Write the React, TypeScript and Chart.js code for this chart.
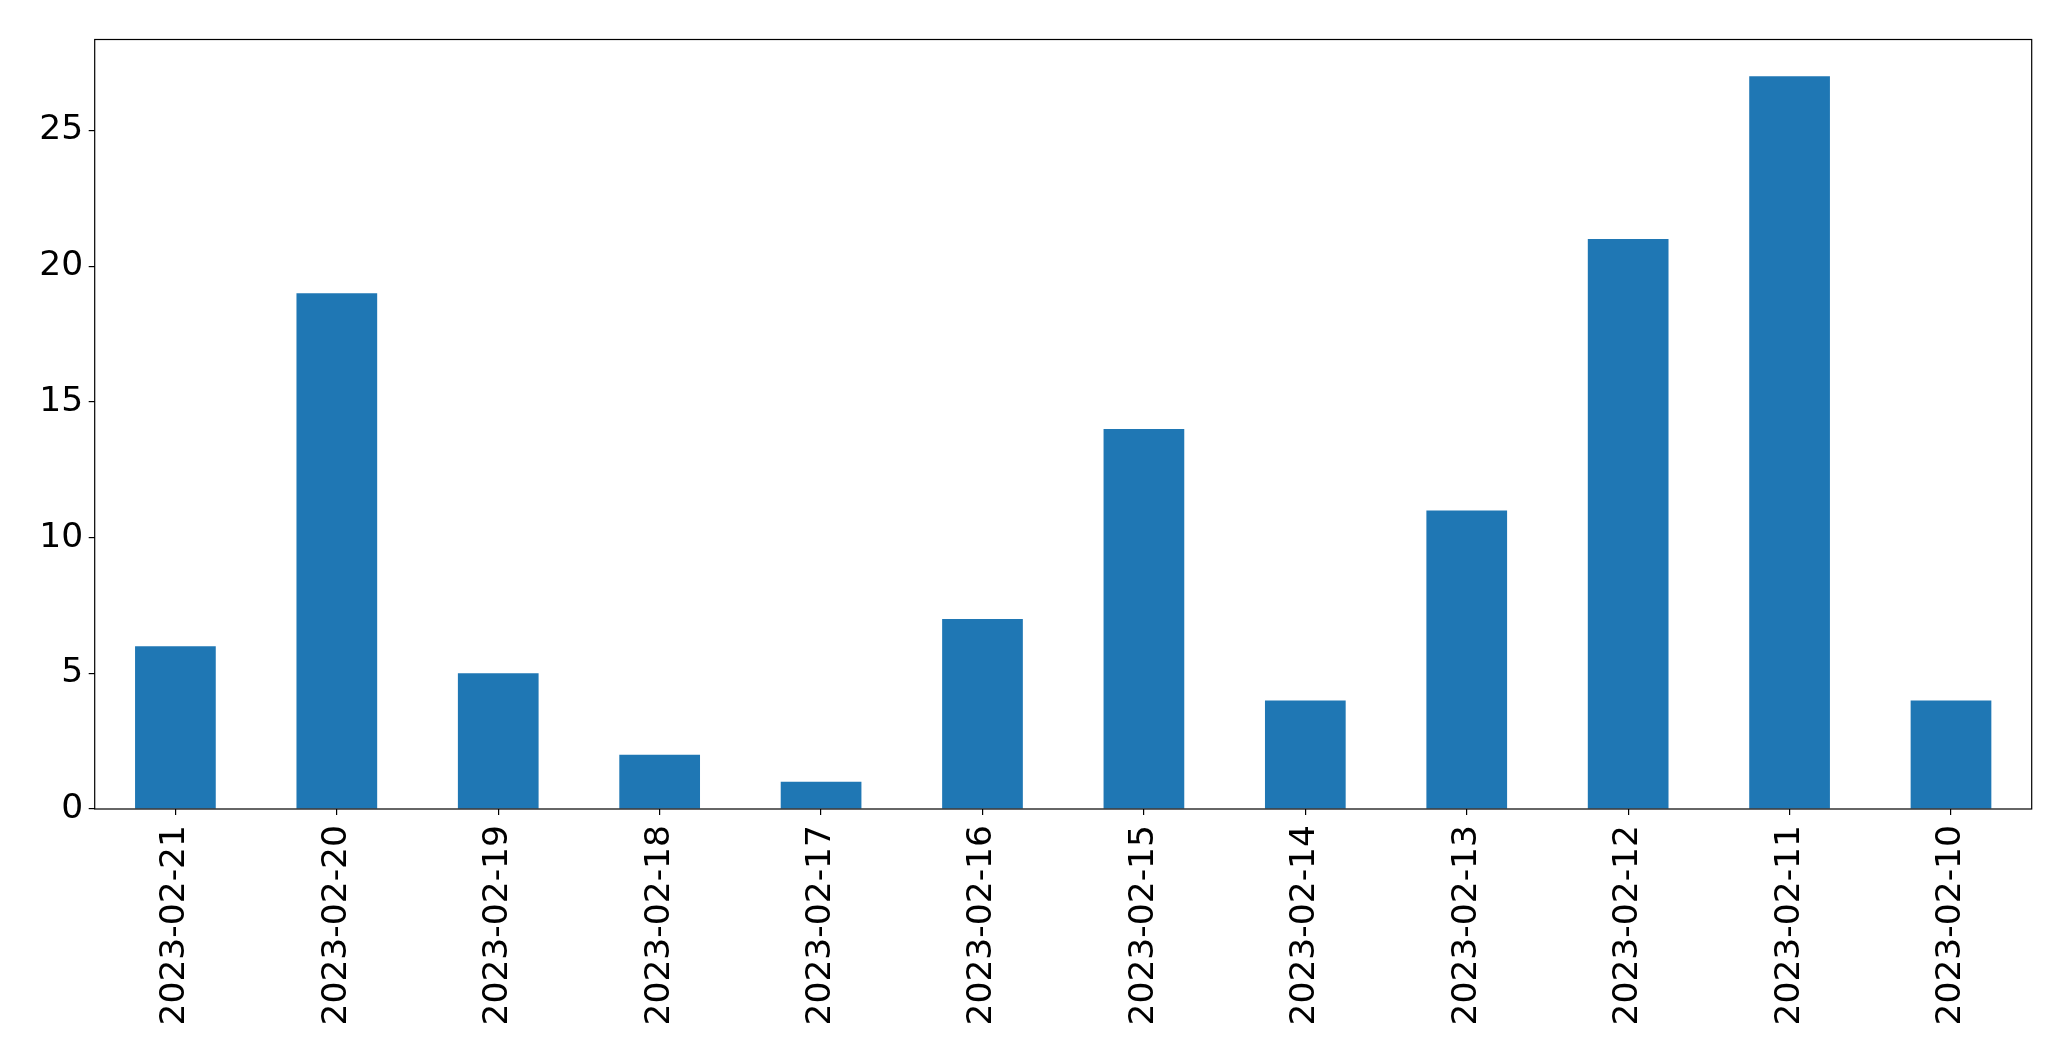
import React, { useEffect, useRef } from "react";
import { Chart, registerables } from "chart.js";

Chart.register(...registerables);

const categories = [
  "2023-02-21", "2023-02-20", "2023-02-19", "2023-02-18", "2023-02-17", "2023-02-16",
  "2023-02-15", "2023-02-14", "2023-02-13", "2023-02-12", "2023-02-11", "2023-02-10",
];
const counts = [6, 19, 5, 2, 1, 7, 14, 4, 11, 21, 27, 4];
const yTicks = [0, 5, 10, 15, 20, 25];
const yMax = 28.35;

const W = 2071;
const H = 1061;
const LEFT = 94.7;
const TOP = 39.5;
const RIGHT = 2031.7;
const BOTTOM = 809;

const framePlugin = {
  id: "frame",
  afterDatasetsDraw(chart: any) {
    const { ctx, chartArea } = chart;
    ctx.save();
    ctx.strokeStyle = "#000";
    ctx.lineWidth = 1.2;
    ctx.strokeRect(chartArea.left, chartArea.top, chartArea.right - chartArea.left, chartArea.bottom - chartArea.top);
    ctx.restore();
  },
};

export default function App() {
  const ref = useRef<HTMLCanvasElement>(null);
  useEffect(() => {
    document.body.style.margin = "0";
    const font = { family: "'DejaVu Sans', sans-serif", size: 34.5 };
    const chart = new Chart(ref.current!, {
      type: "bar",
      data: {
        labels: categories,
        datasets: [
          {
            data: counts,
            backgroundColor: "#1f77b4",
            borderWidth: 0,
            barPercentage: 0.5,
            categoryPercentage: 1,
          },
        ],
      },
      plugins: [framePlugin],
      options: {
        responsive: false,
        animation: false,
        devicePixelRatio: 1,
        layout: { padding: { left: 0, top: TOP, right: W - RIGHT, bottom: 0 } },
        plugins: { legend: { display: false }, tooltip: { enabled: false } },
        scales: {
          x: {
            offset: true,
            grid: { display: true, drawOnChartArea: false, offset: false, tickLength: 6, color: "#000", lineWidth: 1.2 },
            border: { display: false },
            ticks: { color: "#000", font, maxRotation: 90, minRotation: 90, padding: 10, autoSkip: false },
            afterFit(scale: any) {
              scale.height = H - BOTTOM;
            },
          },
          y: {
            min: 0,
            max: yMax,
            grid: { display: true, drawOnChartArea: false, tickLength: 6, color: "#000", lineWidth: 1.2 },
            border: { display: false },
            ticks: { color: "#000", font, padding: 5.5, includeBounds: false },
            afterBuildTicks(scale: any) {
              scale.ticks = yTicks.map((v) => ({ value: v }));
            },
            afterFit(scale: any) {
              scale.width = LEFT;
            },
          },
        },
      },
    });
    return () => chart.destroy();
  }, []);
  return <canvas ref={ref} width={W} height={H} style={{ display: "block", width: W, height: H }} />;
}
